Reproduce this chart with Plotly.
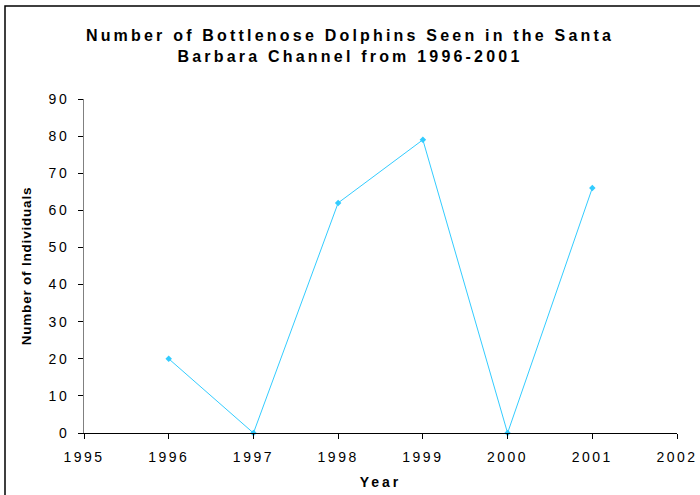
import plotly.graph_objects as go

years = [1996, 1997, 1998, 1999, 2000, 2001]
counts = [20, 0, 62, 79, 0, 66]
title_lines = ["Number of Bottlenose Dolphins Seen in the Santa", "Barbara Channel from 1996-2001"]
x_title = "Year"
y_title = "Number of Individuals"

fig = go.Figure()
fig.add_trace(go.Scatter(
    x=years, y=counts, mode="lines+markers",
    line=dict(color="#33CCFF", width=1),
    marker=dict(symbol="diamond", size=5, color="#33CCFF"),
    showlegend=False, cliponaxis=False,
))

font_fam = "Liberation Sans, Arial, sans-serif"
fig.update_layout(
    width=700, height=495,
    margin=dict(l=84, r=23, t=99, b=62),
    paper_bgcolor="white", plot_bgcolor="white",
    font=dict(family=font_fam, color="black", size=14),
    title=dict(text="<br>".join(title_lines), x=0.5, xanchor="center",
               y=1 - 41 / 495, yanchor="middle", automargin=False,
               font=dict(family=font_fam, size=16, color="black", weight="bold")),
    xaxis=dict(range=[1995, 2002], tickvals=list(range(1995, 2003)), automargin=False,
               showgrid=False, zeroline=False, showline=True, linecolor="black", linewidth=1,
               ticks="outside", ticklen=5, tickcolor="black",
               tickfont=dict(size=14), ticklabelstandoff=6,
               title=dict(text=x_title, font=dict(size=14, weight="bold"), standoff=13)),
    yaxis=dict(range=[0, 90], tickvals=list(range(0, 91, 10)), automargin=False,
               showgrid=False, zeroline=False, showline=True, linecolor="#808080", linewidth=1,
               ticks="outside", ticklen=5, tickcolor="black",
               tickfont=dict(size=14), ticklabelstandoff=6,
               title=dict(text=y_title, font=dict(size=13.5, weight="bold"), standoff=18)),
    shapes=[dict(type="rect", xref="paper", yref="paper",
                 x0=-79/593, x1=1.2, y0=-0.3, y1=1+93/334,
                 line=dict(color="black", width=1.5), fillcolor="rgba(0,0,0,0)", layer="below")],
)

post = """
document.body.style.margin = '0';
var st = document.createElement('style');
st.innerHTML = 'body{margin:0;} .gtitle{letter-spacing:3.2px;} .xtick text, .ytick text{letter-spacing:2.5px;} .xtitle{letter-spacing:3px;} .ytitle{letter-spacing:0.8px;}';
document.head.appendChild(st);
"""
fig.write_html("out.html", post_script=post, config={"displayModeBar": False})
